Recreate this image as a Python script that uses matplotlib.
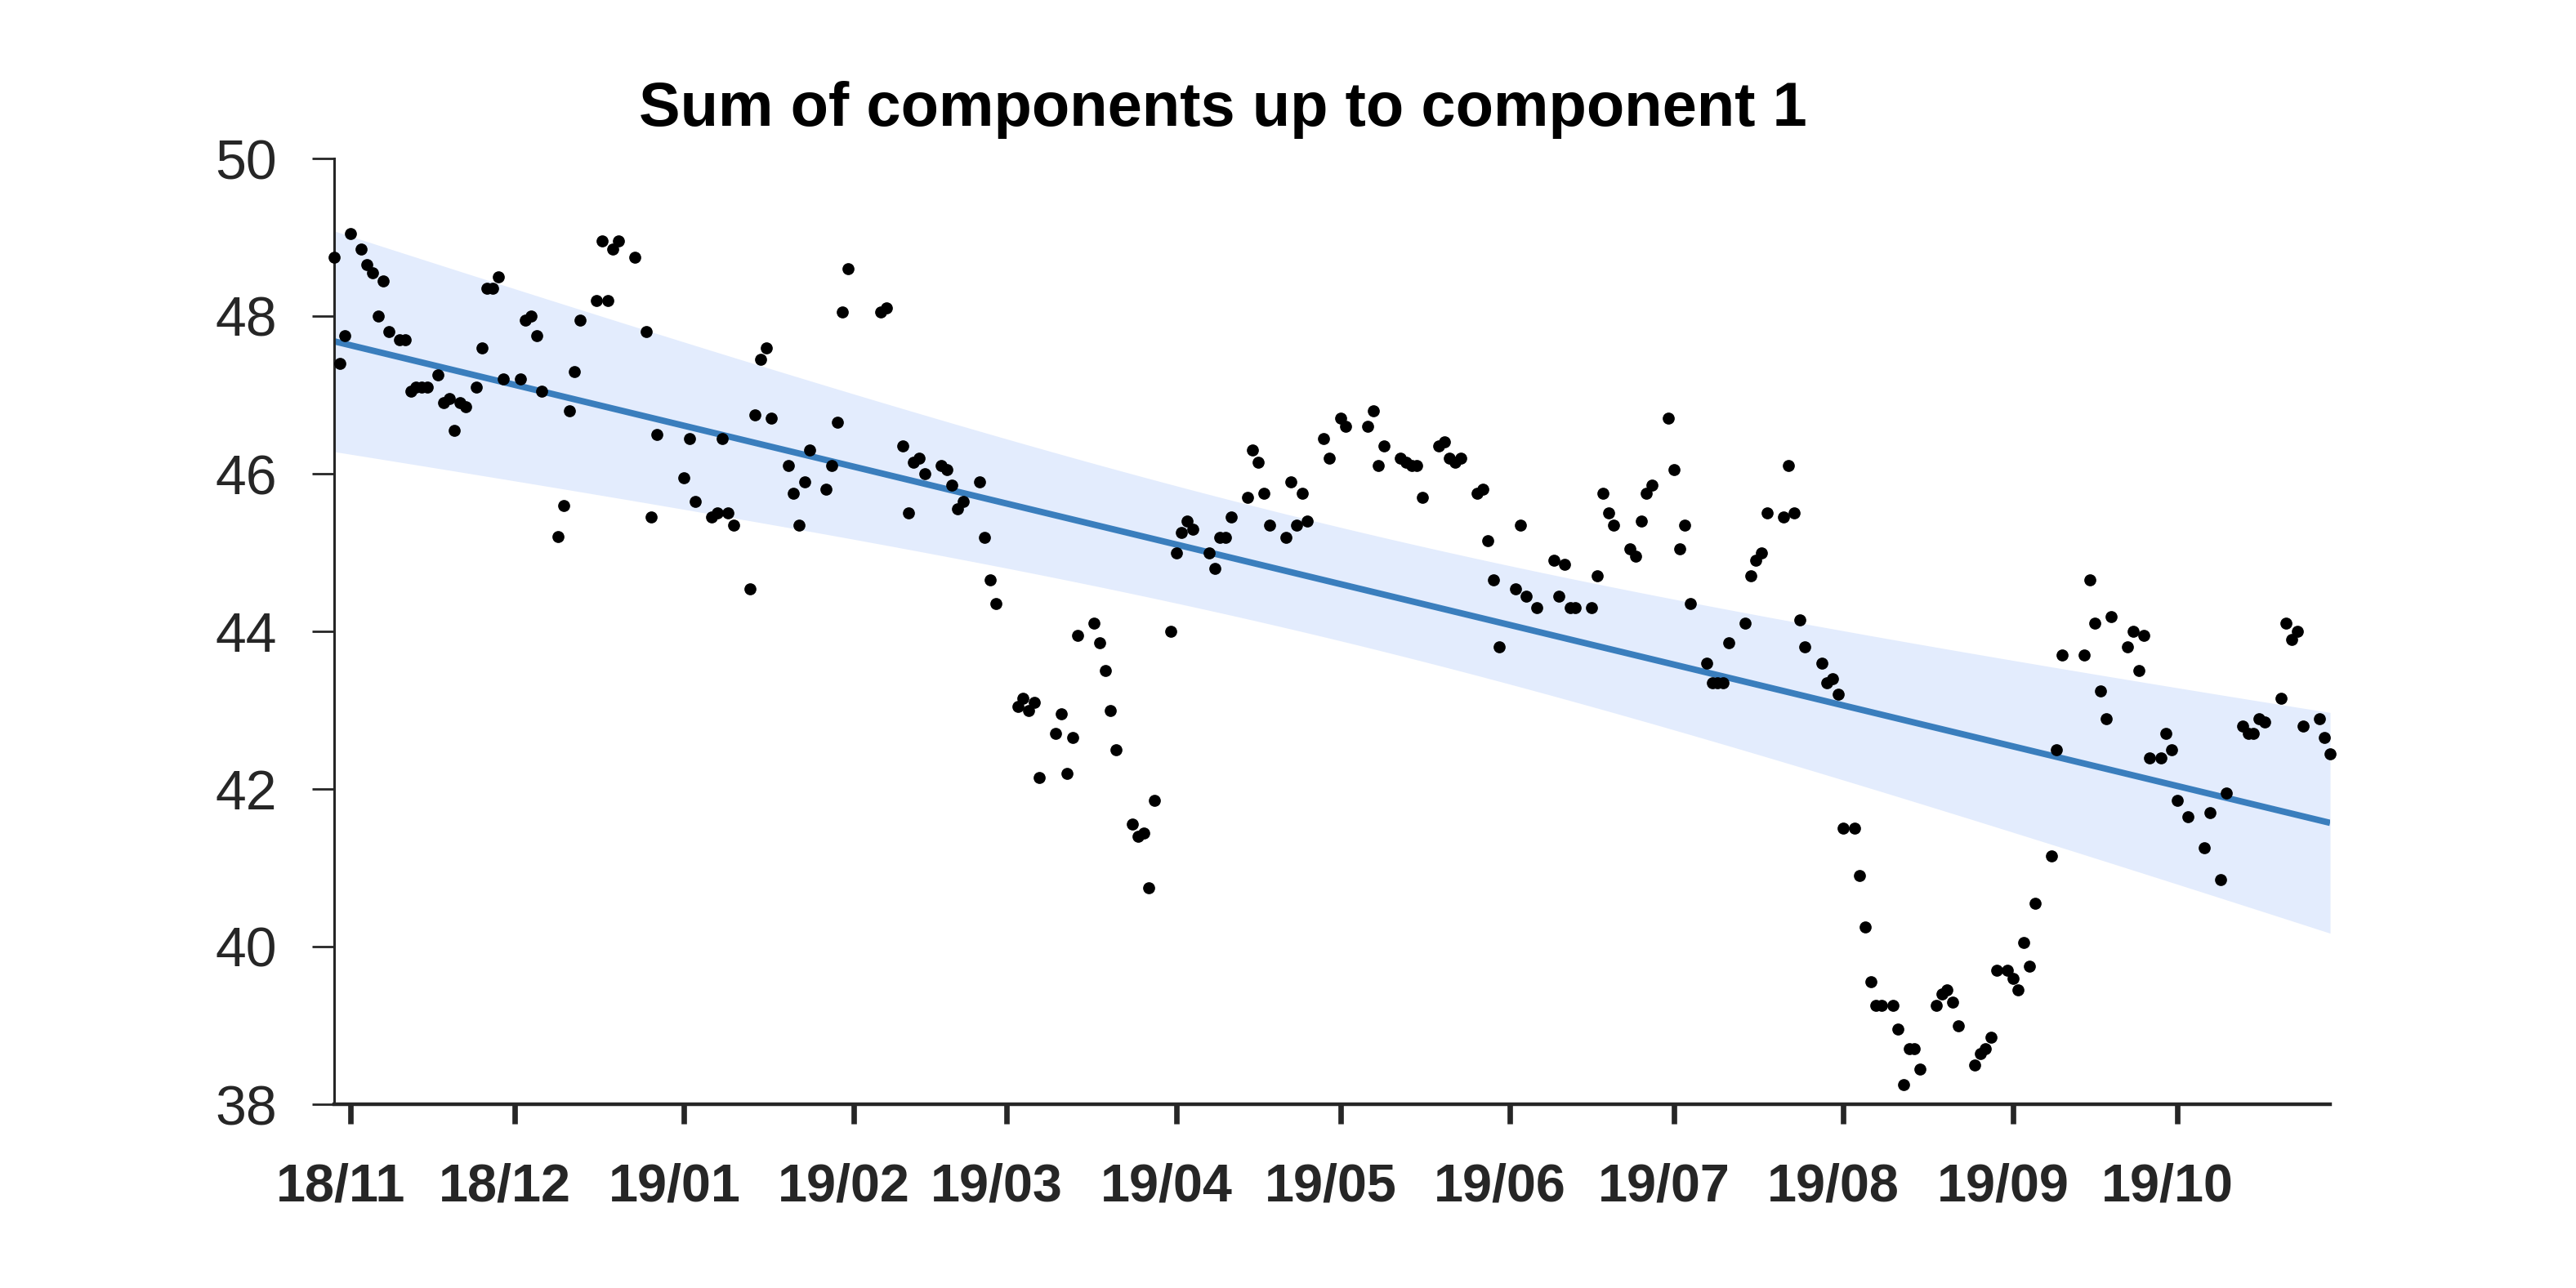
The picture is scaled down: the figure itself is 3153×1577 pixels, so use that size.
import numpy as np
import pandas as pd
import matplotlib
matplotlib.use("Agg")
import matplotlib.pyplot as plt
import matplotlib.dates as mdates
import matplotlib.transforms as mtransforms

# ---------------- data ----------------
START = "2018-11-01"
day_offsets = [
    -3, -2, -1, 0, 2, 3, 4, 5, 6, 7, 9, 10, 11, 12, 13, 14, 16, 17, 18, 19, 20, 21,
    23, 24, 25, 26, 27, 28, 31, 32, 33, 34, 35, 38, 39, 40, 41, 42, 45, 46, 47, 48,
    49, 52, 54, 55,
    56, 61, 62, 63, 66, 67, 68, 69, 70, 73, 74, 75, 76, 77, 80, 81, 82, 83, 84, 87,
    88, 89, 90, 91, 97, 98, 101, 102, 103, 104, 105, 108, 109, 110, 111, 112, 115,
    116, 117, 118, 122, 123, 124, 125, 126, 129, 130, 131, 132, 133, 136, 137, 138,
    139, 140, 143, 144, 145, 146, 147, 150, 151, 152, 153, 154, 157, 158, 159, 160,
    161, 164, 165, 166, 167, 168, 171, 172, 173, 174, 175,
    178, 179, 181, 182, 186, 187, 188, 189, 192, 193, 194, 195, 196, 199, 200, 201,
    202, 203, 206, 207, 208, 209, 210, 213, 214, 215, 217, 220, 221, 222, 223, 224,
    227, 228, 229, 230, 231, 234,
    235, 236, 237, 238, 241, 242, 243, 244, 245, 248, 249, 250, 251, 252, 255, 256,
    257, 258, 259, 262, 263, 264, 265, 266, 269, 270, 271, 272, 273, 275, 276, 277,
    278, 279, 280, 282, 283, 284, 285, 286, 287, 290, 291, 292, 293, 294,
    297, 298, 299, 300, 301, 303, 304, 305, 306, 307, 308, 311, 312, 313, 317, 318,
    319, 320, 321, 322, 325, 326, 327, 328, 329, 331, 332, 333, 334, 336, 339, 340,
    342, 343, 346, 347, 348, 349, 350, 353, 354, 355, 356, 357, 360, 361, 362,
]
values = [
    48.75, 47.40, 47.75, 49.05, 48.85, 48.65, 48.55, 48.00, 48.45, 47.80, 47.70, 47.70,
    47.05, 47.10, 47.10, 47.10, 47.25, 46.90, 46.95, 46.55, 46.90, 46.85, 47.10, 47.60,
    48.35, 48.35, 48.50, 47.20, 47.20, 47.95, 48.00, 47.75, 47.05, 45.20, 45.60, 46.80,
    47.30, 47.95, 48.20, 48.95, 48.20, 48.85, 48.95, 48.75, 47.80, 45.45,
    46.50, 45.95, 46.45, 45.65, 45.45, 45.50, 46.45, 45.50, 45.35, 44.54, 46.75, 47.45,
    47.60, 46.70, 46.10, 45.75, 45.35, 45.90, 46.30, 45.80, 46.10, 46.65, 48.05, 48.60,
    48.05, 48.10, 46.35, 45.50, 46.15, 46.20, 46.00, 46.10, 46.05, 45.85, 45.55, 45.65,
    45.90,
    45.19, 44.65, 44.35, 43.05, 43.15, 43.00, 43.10, 42.15, 42.70, 42.95, 42.20, 42.65,
    43.95, 44.10, 43.85, 43.50, 43.00, 42.50, 41.55, 41.40, 41.44, 40.75, 41.85, 44.00,
    45.00, 45.25, 45.40, 45.30, 45.00, 44.80, 45.19, 45.19, 45.45, 45.70, 46.30, 46.15,
    45.75, 45.35, 45.19, 45.90, 45.35, 45.75, 45.40,
    46.45, 46.20, 46.70, 46.60, 46.60, 46.80, 46.10, 46.35, 46.20, 46.15, 46.10, 46.10,
    45.70, 46.35, 46.40, 46.20, 46.15, 46.20, 45.75, 45.80, 45.15, 44.65, 43.80, 44.54,
    45.35, 44.45, 44.30, 44.90, 44.45, 44.85, 44.30, 44.30, 44.30, 44.70, 45.75, 45.50,
    45.35, 45.05,
    44.95, 45.40, 45.75, 45.85, 46.70, 46.05, 45.05, 45.35, 44.35, 43.60, 43.35, 43.35,
    43.35, 43.85, 44.10, 44.70, 44.90, 45.00, 45.50, 45.45, 46.10, 45.50, 44.15, 43.80,
    43.60, 43.35, 43.40, 43.20, 41.50, 41.50, 40.90, 40.25, 39.55, 39.25, 39.25, 39.25,
    38.95, 38.25, 38.70, 38.70, 38.45, 39.25, 39.40, 39.45, 39.30, 39.00,
    38.50, 38.64, 38.70, 38.85, 39.70, 39.70, 39.60, 39.45, 40.05, 39.75, 40.55, 41.15,
    42.50, 43.70, 43.70, 44.65, 44.10, 43.24, 42.89, 44.19, 43.80, 44.00, 43.50, 43.95,
    42.39, 42.39, 42.70, 42.50, 41.85, 41.65, 41.25, 41.70, 40.85, 41.95, 42.80, 42.70,
    42.70, 42.89, 42.85, 43.15, 44.10, 43.90, 44.00, 42.80, 42.89, 42.65, 42.45,
]

# trend line (value at first and last date) and its confidence half-width
trend_ends = [47.68, 41.57]
band_halfwidth_end = 1.40
band_halfwidth_mid = 0.72

title = "Sum of components up to component 1"
y_ticks = [38, 40, 42, 44, 46, 48, 50]
x_tick_dates = ["2018-11-01", "2018-12-01", "2019-01-01", "2019-02-01", "2019-03-01",
                "2019-04-01", "2019-05-01", "2019-06-01", "2019-07-01", "2019-08-01",
                "2019-09-01", "2019-10-01"]
x_tick_labels = ["18/11", "18/12", "19/01", "19/02", "19/03", "19/04", "19/05",
                 "19/06", "19/07", "19/08", "19/09", "19/10"]

# ---------------- figure ----------------
plt.rcParams["font.family"] = ["Liberation Sans", "DejaVu Sans"]
DPI = 200
fig = plt.figure(figsize=(3153 / DPI, 1577 / DPI), dpi=DPI)
ax = fig.add_axes([409 / 3153, 1 - 1352 / 1577, (2852 - 409) / 3153, (1352 - 194) / 1577])

dates = pd.Timestamp(START) + pd.to_timedelta(day_offsets, unit="D")
xn = mdates.date2num(dates)

# trend + band
xg = np.linspace(xn[0], xn[-1], 400)
frac = (xg - xn[0]) / (xn[-1] - xn[0])
trend = trend_ends[0] + (trend_ends[1] - trend_ends[0]) * frac
u = (frac - 0.5) / 0.5
half = np.sqrt(band_halfwidth_mid ** 2 + (band_halfwidth_end ** 2 - band_halfwidth_mid ** 2) * u ** 2)
ax.fill_between(xg, trend - half, trend + half, color="#e3ecfd", lw=0, zorder=1)
ax.plot(xg, trend, color="#3a7ebd", lw=2.8, zorder=2, solid_capstyle="butt")

ax.scatter(xn, values, s=28, color="black", lw=0, zorder=3, clip_on=False)

ax.set_xlim(xn[0], xn[-1])
ax.set_ylim(38, 50)
ax.set_yticks(y_ticks)
ax.set_yticklabels([str(v) for v in y_ticks])
ax.set_xticks(mdates.date2num(pd.to_datetime(x_tick_dates)))
ax.set_xticklabels(x_tick_labels, fontweight="bold")

for s in ["top", "right"]:
    ax.spines[s].set_visible(False)
ax.spines["left"].set_linewidth(1.1)
ax.spines["bottom"].set_linewidth(1.6)
for s in ["left", "bottom"]:
    ax.spines[s].set_color("#262626")

ax.tick_params(axis="y", length=9.7, width=1.0, pad=15.5, labelsize=24.5,
               colors="#262626", direction="out")
ax.tick_params(axis="x", length=8.6, width=2.4, pad=17, labelsize=23.3,
               colors="#262626", direction="out")

offset = mtransforms.ScaledTranslation(-12 / DPI, 0, fig.dpi_scale_trans)
for lab in ax.get_xticklabels():
    lab.set_transform(lab.get_transform() + offset)

fig.text(1497 / 3153, 1 - 154 / 1577, title, ha="center", va="baseline",
         fontsize=27.3, fontweight="bold", color="black")

fig.savefig("out.png", dpi=DPI)
